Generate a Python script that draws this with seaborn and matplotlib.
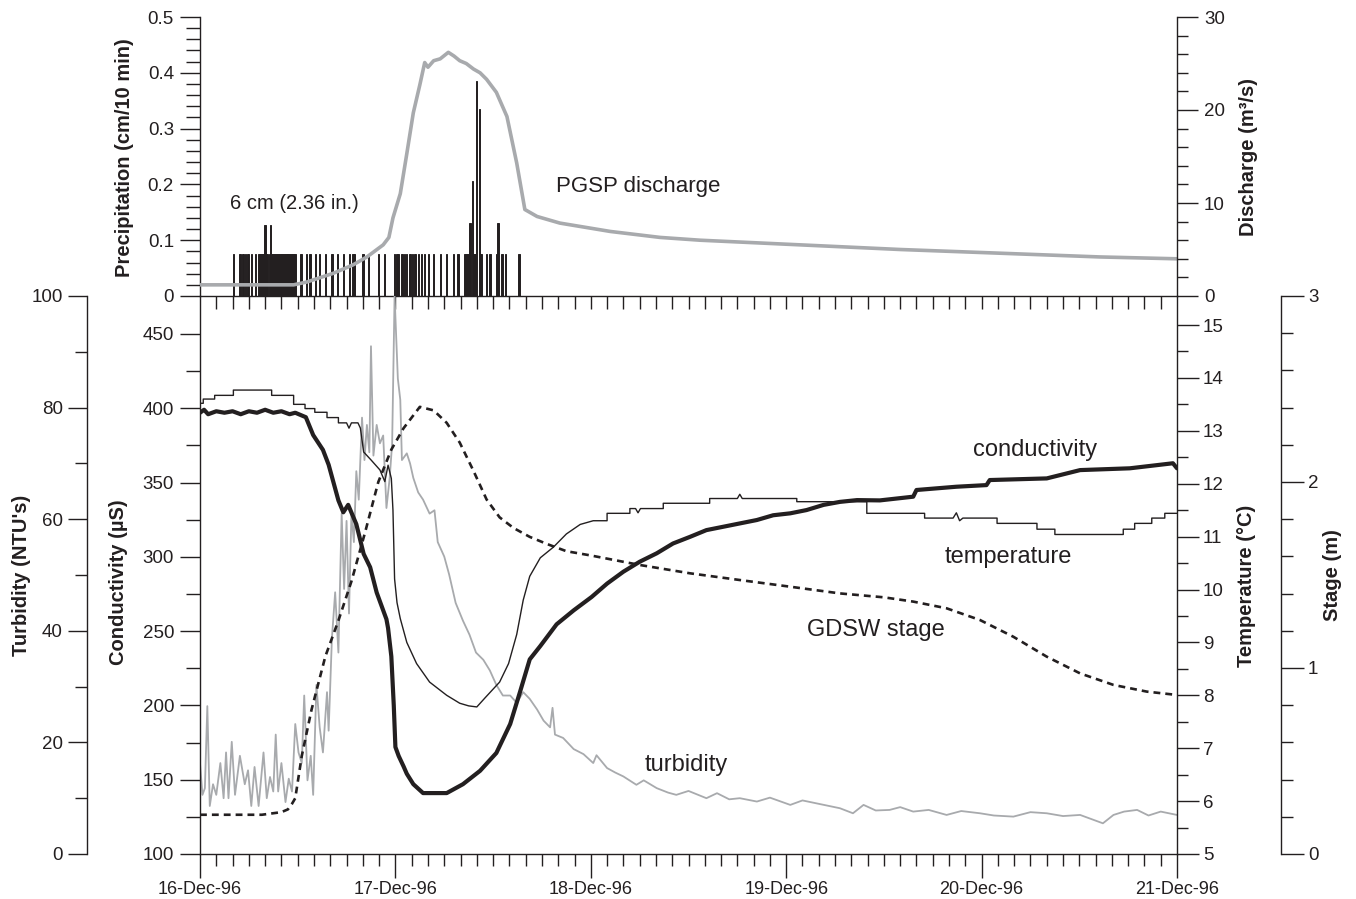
import matplotlib
matplotlib.use('Agg')
import matplotlib.pyplot as plt
import seaborn as sns
from matplotlib.ticker import FixedLocator, FuncFormatter, NullFormatter

# ---------------- data (hours after 16-Dec-96 00:00) ----------------
DATE_LABELS = ['16-Dec-96', '17-Dec-96', '18-Dec-96', '19-Dec-96', '20-Dec-96', '21-Dec-96']
DATE_HOURS = [0, 24, 48, 72, 96, 120]

# precipitation (hour, cm per 10 min)
PRECIP = [(4.1, 0.076), (4.9, 0.076), (5.3, 0.076), (5.6, 0.076), (5.9, 0.076), (6.3, 0.076),
          (6.8, 0.076), (7.2, 0.076), (7.33, 0.076), (7.5, 0.076), (7.67, 0.076), (7.83, 0.076),
          (8.0, 0.127), (8.17, 0.076), (8.33, 0.076), (8.5, 0.076), (8.67, 0.127), (8.83, 0.076),
          (9.0, 0.076), (9.17, 0.076), (9.33, 0.076), (9.5, 0.076), (9.67, 0.076), (9.83, 0.076),
          (10.0, 0.076), (10.17, 0.076), (10.33, 0.076), (10.5, 0.076), (10.67, 0.076),
          (10.83, 0.076), (11.0, 0.076), (11.17, 0.076), (11.33, 0.076), (11.5, 0.076),
          (11.67, 0.076), (12.4, 0.076), (13.1, 0.076), (13.5, 0.076), (14.2, 0.076), (14.7, 0.076),
          (15.4, 0.076), (16.2, 0.076), (16.9, 0.076), (17.6, 0.076), (18.4, 0.076), (18.8, 0.076),
          (19.0, 0.076), (20.0, 0.076), (20.7, 0.076), (21.9, 0.076), (22.7, 0.076), (23.9, 0.076),
          (24.2, 0.076), (24.4, 0.076), (24.8, 0.076), (25.1, 0.076), (25.4, 0.076), (25.8, 0.076),
          (26.1, 0.076), (26.4, 0.076), (26.8, 0.076), (27.2, 0.076), (27.6, 0.076), (28.1, 0.076),
          (28.7, 0.076), (29.5, 0.076), (30.3, 0.076), (31.1, 0.076), (31.7, 0.076), (32.5, 0.076),
          (32.67, 0.076), (32.83, 0.076), (33.0, 0.076), (33.17, 0.131), (33.5, 0.206),
          (33.67, 0.076), (33.83, 0.076), (34.0, 0.385), (34.33, 0.335), (34.5, 0.076),
          (35.2, 0.076), (35.6, 0.076), (36.4, 0.076), (36.6, 0.131), (37.1, 0.076), (37.5, 0.076),
          (39.2, 0.076)]

# PGSP discharge (hour, m3/s)
DISCHARGE = [(0, 1.2), (5, 1.2), (11.5, 1.2), (13.1, 1.5), (16.4, 2.45), (18.8, 3.35), (20.5, 4.2),
             (22.5, 5.5), (23.2, 6.3), (23.7, 8.4), (24.6, 11.0), (25.4, 15.3), (26.2, 19.7),
             (27.0, 22.7), (27.6, 25.1), (28.0, 24.6), (28.7, 25.3), (29.5, 25.5), (30.5, 26.2),
             (31.2, 25.8), (31.9, 25.3), (32.7, 25.0), (33.6, 24.4), (34.4, 24.0), (35.2, 23.3),
             (36.4, 21.9), (37.7, 19.3), (38.9, 14.3), (39.9, 9.3), (41.4, 8.55), (44.2, 7.84),
             (50.4, 6.94), (56.5, 6.3), (61.4, 6.0), (73.7, 5.5), (86.0, 5.0), (98.3, 4.6),
             (110.5, 4.2), (120, 4.0)]

# turbidity (hour, NTU)
TURBIDITY = [(0, 16.3), (0.3, 10.6), (0.6, 11.8), (0.9, 26.5), (1.2, 8.6), (1.6, 12.5), (2.0, 10.6),
             (2.5, 16.3), (2.9, 10.0), (3.2, 18.2), (3.5, 10.0), (3.9, 20.1), (4.3, 10.6),
             (4.9, 17.6), (5.5, 12.5), (5.9, 15.0), (6.3, 8.6), (6.7, 15.6), (7.2, 8.6), (7.8, 18.2),
             (8.2, 10.0), (8.6, 13.8), (9.0, 11.2), (9.3, 21.4), (9.6, 11.2), (10.0, 16.3),
             (10.5, 9.3), (10.9, 13.5), (11.3, 11.2), (11.7, 23.3), (12.1, 18.2), (12.5, 16.3),
             (12.8, 28.4), (13.2, 13.2), (13.6, 17.6), (13.9, 10.6), (14.3, 30.3), (14.7, 22.7),
             (15.1, 18.2), (15.6, 29.0), (15.8, 22.1), (16.2, 38.6), (16.6, 46.9), (17.0, 36.1),
             (17.4, 61.0), (17.7, 47.5), (18.0, 59.7), (18.3, 43.1), (18.6, 61.0), (18.9, 55.9),
             (19.2, 68.6), (19.5, 63.5), (19.9, 78.2), (20.2, 70.6), (20.5, 76.9), (20.8, 72.0),
             (21.0, 91.0), (21.3, 71.4), (21.7, 76.9), (22.1, 73.6), (22.5, 75.0), (22.9, 62.0),
             (23.3, 67.4), (23.6, 73.6), (23.9, 100.0), (24.3, 85.2), (24.6, 81.4), (24.8, 70.6),
             (25.4, 71.8), (25.8, 70.0), (26.2, 67.4), (26.8, 64.8), (27.4, 63.5), (28.2, 61.0),
             (28.8, 61.6), (29.2, 55.9), (30.0, 53.3), (30.6, 50.1), (31.4, 45.0), (32.3, 41.8),
             (33.1, 39.3), (33.9, 36.1), (34.8, 34.8), (35.6, 32.9), (36.4, 30.3), (37.2, 28.4),
             (38.1, 28.4), (38.9, 27.1), (39.7, 29.0), (40.5, 27.8), (41.4, 25.9), (42.2, 23.9),
             (43.0, 22.7), (43.3, 26.2), (43.6, 21.4), (44.6, 20.8), (45.9, 18.8), (47.1, 17.9),
             (48.3, 16.3), (48.7, 17.7), (50.0, 15.4), (51.0, 14.6), (52.0, 13.9), (53.6, 12.4),
             (54.5, 13.2), (56.1, 11.8), (57.5, 11.0), (58.5, 10.6), (60.0, 11.3), (62.2, 10.0),
             (63.5, 10.9), (65.0, 9.8), (66.3, 10.0), (68.4, 9.4), (70.0, 10.1), (72.5, 8.8),
             (74.0, 9.6), (76.6, 8.8), (78.6, 8.2), (80.2, 7.3), (81.5, 8.8), (83.0, 7.8),
             (84.7, 7.9), (86.0, 8.4), (87.6, 7.6), (89.5, 7.9), (91.7, 7.0), (93.5, 7.7),
             (95.8, 7.3), (97.5, 6.9), (99.9, 6.7), (102.0, 7.5), (104.0, 7.3), (106.0, 6.8),
             (108.1, 7.0), (110.9, 5.5), (112.2, 7.0), (113.5, 7.6), (115.1, 7.9), (116.5, 6.9),
             (118.0, 7.6), (120, 7.0)]

# temperature (hour, deg C)
TEMPERATURE = [(0, 13.52), (0.4, 13.52), (0.4, 13.6), (1.8, 13.6), (1.8, 13.67), (4.1, 13.67),
               (4.1, 13.77), (8.8, 13.77), (8.8, 13.67), (11.5, 13.67), (11.5, 13.5), (12.9, 13.5),
               (12.9, 13.42), (14.1, 13.42), (14.1, 13.35), (15.6, 13.35), (15.6, 13.25),
               (17.0, 13.25), (17.0, 13.15), (18.0, 13.15), (18.3, 13.05), (18.6, 13.15),
               (19.4, 13.15), (19.7, 13.05), (20.1, 12.6), (21.0, 12.45), (22.1, 12.26),
               (22.7, 12.04), (23.1, 12.35), (23.5, 12.1), (23.7, 11.5), (23.9, 10.2), (24.2, 9.75),
               (24.6, 9.45), (25.4, 9.0), (26.6, 8.6), (28.2, 8.25), (30.3, 8.0), (31.9, 7.85),
               (33.0, 7.8), (34.0, 7.78), (35.0, 7.95), (35.6, 8.05), (36.8, 8.25), (37.9, 8.6),
               (38.9, 9.15), (39.7, 9.8), (40.5, 10.25), (41.8, 10.6), (43.4, 10.8), (45.0, 11.05),
               (46.7, 11.23), (48.3, 11.3), (50.0, 11.3), (50.0, 11.44), (52.8, 11.44),
               (52.8, 11.53), (53.5, 11.53), (53.8, 11.45), (54.1, 11.53), (56.9, 11.53),
               (56.9, 11.63), (62.6, 11.63), (62.6, 11.72), (66.0, 11.72), (66.3, 11.8),
               (66.6, 11.72), (73.3, 11.72), (73.3, 11.66), (81.9, 11.66), (81.9, 11.44),
               (89.0, 11.44), (89.0, 11.35), (92.5, 11.35), (92.9, 11.45), (93.3, 11.3),
               (93.7, 11.35), (97.9, 11.35), (97.9, 11.25), (102.8, 11.25), (102.8, 11.14),
               (105.0, 11.14), (105.0, 11.04), (113.4, 11.04), (113.4, 11.14), (114.8, 11.14),
               (114.8, 11.25), (116.9, 11.25), (116.9, 11.35), (118.5, 11.35), (118.5, 11.44),
               (120, 11.44)]

# conductivity (hour, microsiemens)
CONDUCTIVITY = [(0, 397), (0.5, 399), (1, 396), (2, 398), (3, 397), (4, 398), (5, 396), (6, 398),
                (7, 397), (8, 399), (9, 397), (10, 398), (11, 396), (11.7, 397), (13.0, 394),
                (13.9, 382), (15.1, 372), (15.8, 362), (16.4, 350), (17.0, 338), (17.6, 330),
                (18.2, 335), (19.2, 322), (20.1, 302), (20.9, 293), (21.7, 276), (22.5, 264),
                (22.9, 258), (23.1, 252), (23.5, 233), (23.8, 200), (24.0, 172), (24.4, 166),
                (25.0, 159), (25.4, 154), (26.2, 147), (27.4, 141), (30.3, 141), (32.3, 147),
                (34.4, 156), (36.4, 168), (38.1, 187.5), (39.3, 209), (40.5, 231), (41.8, 240),
                (43.8, 254.6), (45.9, 264), (48.1, 273), (50.0, 282), (52.0, 290), (54.0, 296.7),
                (56.1, 302.4), (58.1, 309), (60.2, 313.5), (62.2, 318), (64.3, 320.3),
                (66.3, 322.5), (68.4, 324.8), (70.4, 328), (72.5, 329.3), (74.5, 331.5),
                (76.6, 335), (78.6, 337), (80.7, 338.2), (83.5, 338), (87.6, 340.5), (88.0, 345),
                (92.9, 347.2), (96.6, 348.3), (97.0, 351.7), (104.0, 352.8), (108.1, 358.4),
                (114.2, 359.6), (119.5, 363), (120, 359.6)]

# GDSW stage (hour, m)
STAGE = [(0, 0.211), (7.6, 0.211), (10.0, 0.225), (10.8, 0.24), (11.3, 0.27), (11.7, 0.30),
         (12.5, 0.527), (13.7, 0.776), (15.4, 1.063), (17.0, 1.255), (18.6, 1.466), (20.3, 1.733),
         (21.9, 2.0), (23.5, 2.174), (25.0, 2.289), (27.0, 2.404), (28.7, 2.385), (30.3, 2.318),
         (31.9, 2.212), (33.6, 2.059), (35.2, 1.906), (36.8, 1.81), (38.5, 1.753), (40.5, 1.705),
         (42.6, 1.667), (45.0, 1.628), (48.0, 1.605), (54.0, 1.554), (60.2, 1.509), (66.3, 1.473),
         (72.5, 1.437), (78.6, 1.401), (84.0, 1.38), (87.6, 1.357), (91.7, 1.321), (95.8, 1.258),
         (99.9, 1.168), (104.0, 1.061), (108.1, 0.971), (112.2, 0.909), (116.3, 0.873),
         (120, 0.855)]


def cols(pairs):
    return [p[0] for p in pairs], [p[1] for p in pairs]


# ---------------- styling ----------------
sns.set_style('ticks')
plt.rcParams['font.family'] = ['Liberation Sans', 'DejaVu Sans']
INK = '#231f20'
GRAY = '#a8aaad'
W, H = 1356, 899


def pt(px):
    return px * 0.72


def rect(x0, y0, x1, y1):
    return [x0 / W, 1 - y1 / H, (x1 - x0) / W, (y1 - y0) / H]


fmt = FuncFormatter(lambda v, _: f'{v:g}')

fig = plt.figure(figsize=(W / 100, H / 100), dpi=100)
fig.patch.set_facecolor('white')

ax_p = fig.add_axes(rect(200, 17, 1177, 296))
ax_q = ax_p.twinx()
ax_t = fig.add_axes(rect(200, 296, 1177, 854))
ax_temp = ax_t.twinx()
ax_s = ax_t.twinx()
ax_c = ax_t.twinx()

for a in (ax_p, ax_q, ax_t, ax_temp, ax_s, ax_c):
    a.set_facecolor('none')
    for sp in a.spines.values():
        sp.set_visible(False)
        sp.set_color(INK)
        sp.set_linewidth(1.0)

ax_p.spines['left'].set_visible(True)
ax_p.spines['bottom'].set_visible(True)
ax_q.spines['right'].set_visible(True)
ax_t.spines['left'].set_visible(True)
ax_t.spines['left'].set_position(('axes', (87 - 200) / 977))
ax_t.spines['bottom'].set_visible(True)
ax_temp.spines['right'].set_visible(True)
ax_s.spines['right'].set_visible(True)
ax_s.spines['right'].set_position(('axes', (1281 - 200) / 977))
ax_c.spines['left'].set_visible(True)
ax_c.yaxis.tick_left()
ax_c.yaxis.set_label_position('left')

# ---- marks ----
pt_x, pt_y = cols(PRECIP)
ax_p.bar(pt_x, pt_y, width=1 / 6, color=INK, edgecolor=INK, linewidth=0.7, zorder=2)
qx, qy = cols(DISCHARGE)
sns.lineplot(x=qx, y=qy, ax=ax_q, estimator=None, sort=False, color=GRAY, linewidth=2.6)

tx, ty = cols(TURBIDITY)
sns.lineplot(x=tx, y=ty, ax=ax_t, estimator=None, sort=False, color=GRAY, linewidth=1.3)
ex, ey = cols(TEMPERATURE)
sns.lineplot(x=ex, y=ey, ax=ax_temp, estimator=None, sort=False, color=INK, linewidth=1.0)
sx, sy = cols(STAGE)
sns.lineplot(x=sx, y=sy, ax=ax_s, estimator=None, sort=False, color=INK, linewidth=1.9,
             linestyle=(0, (2.6, 1.9)))
cx, cy = cols(CONDUCTIVITY)
sns.lineplot(x=cx, y=cy, ax=ax_c, estimator=None, sort=False, color=INK, linewidth=3.0)

# ---- limits ----
for a in (ax_p, ax_q, ax_t, ax_temp, ax_s, ax_c):
    a.set_xlim(0, 120)
    a.set_xlabel('')
    a.set_ylabel('')
ax_p.set_ylim(0, 0.5)
ax_q.set_ylim(0, 30)
ax_t.set_ylim(0, 100)
ax_c.set_ylim(100, 100 + 558 / (520 / 350))
ax_temp.set_ylim(5, 5 + 558 / 52.9)
ax_s.set_ylim(0, 3)


def yticks(a, major, minor, side, lmaj, lmin, pad):
    a.yaxis.set_major_locator(FixedLocator(major))
    a.yaxis.set_minor_locator(FixedLocator(minor))
    a.yaxis.set_major_formatter(fmt)
    a.yaxis.set_minor_formatter(NullFormatter())
    kw = dict(axis='y', direction='out', width=1.0, color=INK, labelcolor=INK)
    if side == 'left':
        kw.update(left=True, right=False, labelleft=True, labelright=False)
    else:
        kw.update(left=False, right=True, labelleft=False, labelright=True)
    a.tick_params(which='major', length=pt(lmaj), labelsize=13.5, pad=pt(pad), **kw)
    a.tick_params(which='minor', length=pt(lmin), **kw)


yticks(ax_p, [0, 0.1, 0.2, 0.3, 0.4, 0.5],
       [0.02, 0.04, 0.06, 0.08, 0.12, 0.14, 0.16, 0.18, 0.22, 0.24, 0.26, 0.28,
        0.32, 0.34, 0.36, 0.38, 0.42, 0.44, 0.46, 0.48], 'left', 20, 14, 6)
yticks(ax_q, [0, 10, 20, 30], [2, 4, 6, 8, 12, 14, 16, 18, 22, 24, 26, 28], 'right', 21, 11, 6)
yticks(ax_t, [0, 20, 40, 60, 80, 100], [10, 30, 50, 70, 90], 'left', 19, 12, 5)
yticks(ax_c, [100, 150, 200, 250, 300, 350, 400, 450], [125, 175, 225, 275, 325, 375, 425],
       'left', 20, 14, 6)
yticks(ax_temp, [5, 6, 7, 8, 9, 10, 11, 12, 13, 14, 15],
       [5.5, 6.5, 7.5, 8.5, 9.5, 10.5, 11.5, 12.5, 13.5, 14.5], 'right', 22, 11, 4)
yticks(ax_s, [0, 1, 2, 3], [0.2, 0.4, 0.6, 0.8, 1.2, 1.4, 1.6, 1.8, 2.2, 2.4, 2.6, 2.8],
       'right', 23, 12, 4)

ax_p.xaxis.set_major_locator(FixedLocator(list(range(2, 120, 2))))
ax_p.xaxis.set_minor_locator(FixedLocator([]))
ax_p.tick_params(axis='x', which='major', direction='out', length=pt(13), width=1.0, color=INK,
                 labelbottom=False, bottom=True, top=False)
for a in (ax_q, ax_temp, ax_s, ax_c):
    a.tick_params(axis='x', bottom=False, top=False, labelbottom=False)

ax_t.xaxis.set_major_locator(FixedLocator(DATE_HOURS))
ax_t.set_xticklabels(DATE_LABELS)
ax_t.xaxis.set_minor_locator(FixedLocator([h for h in range(2, 120, 2) if h % 24]))
ax_t.tick_params(axis='x', which='major', direction='out', length=pt(24), width=1.0, color=INK,
                 labelsize=13, labelcolor=INK, pad=2)
ax_t.tick_params(axis='x', which='minor', direction='out', length=pt(12), width=1.0, color=INK)


def vlabel(x, y, s):
    fig.text(x / W, 1 - y / H, s, rotation=90, ha='center', va='center', fontsize=14.5,
             fontweight='bold', color=INK)


vlabel(125, 158, 'Precipitation (cm/10 min)')
vlabel(1248, 157, 'Discharge (m³/s)')
vlabel(22, 575, "Turbidity (NTU's)")
vlabel(118, 582, 'Conductivity (µS)')
vlabel(1247, 586, 'Temperature (°C)')
vlabel(1333, 575, 'Stage (m)')


def note(x, y, s, size):
    fig.text(x / W, 1 - y / H, s, ha='left', va='baseline', fontsize=size, color=INK)


note(230, 209, '6 cm (2.36 in.)', 14.5)
note(556, 192, 'PGSP discharge', 16)
note(973, 456, 'conductivity', 17)
note(945, 563, 'temperature', 17)
note(807, 636, 'GDSW stage', 17)
note(645, 771, 'turbidity', 17)

fig.savefig('out.png', dpi=100, facecolor='white')
